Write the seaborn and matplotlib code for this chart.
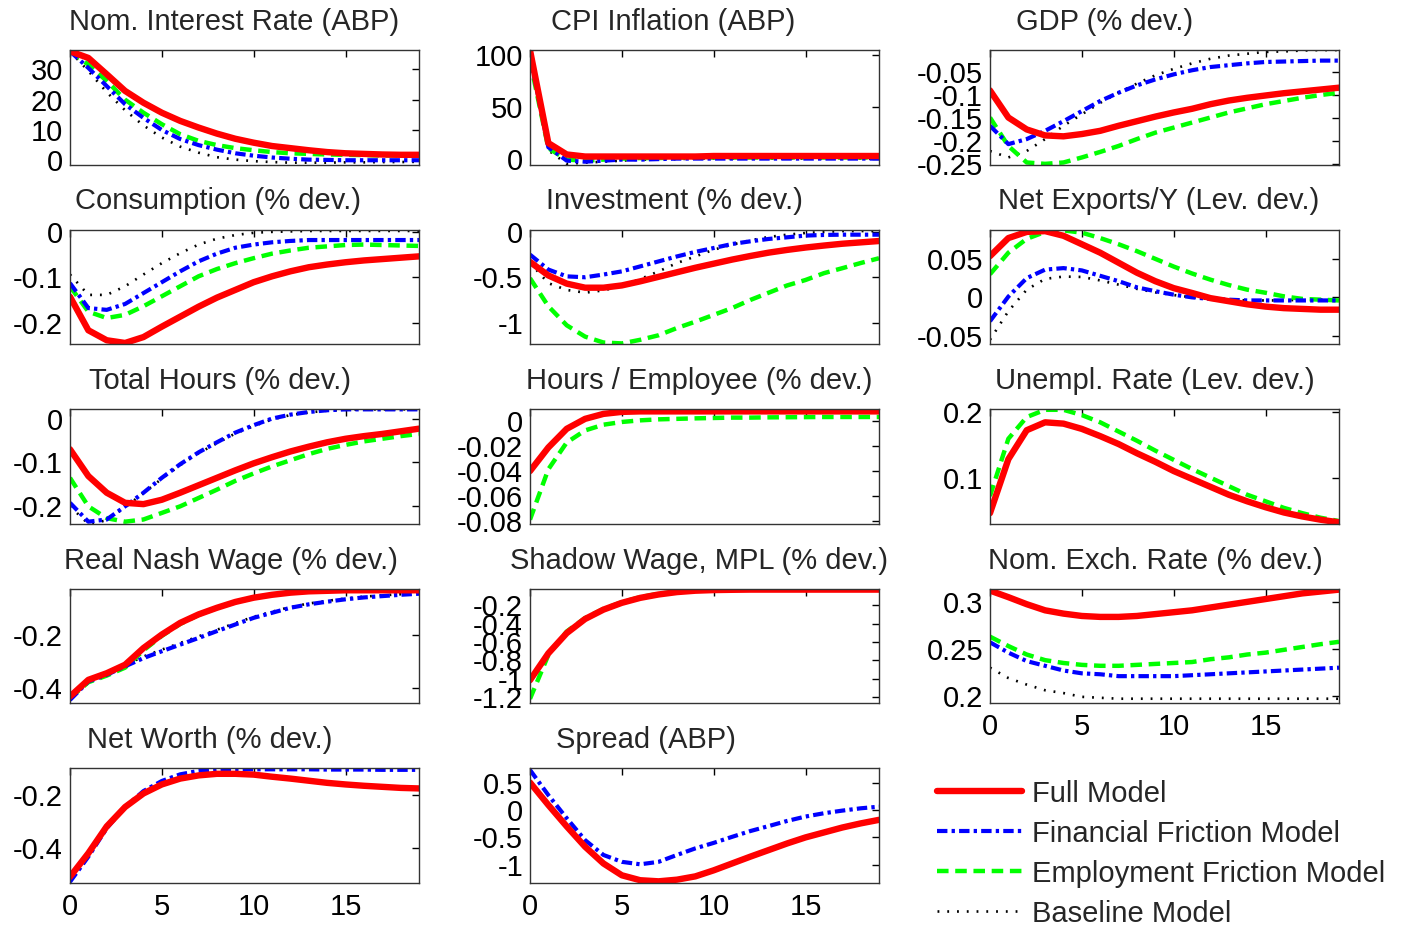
import matplotlib
matplotlib.use("Agg")
import matplotlib.pyplot as plt
import seaborn as sns
from matplotlib.ticker import FormatStrFormatter

periods = list(range(20))
models = ["Full Model", "Financial Friction Model", "Employment Friction Model", "Baseline Model"]

# each panel: [full, financial, employment, baseline]  (None = not shown)
nom_rate = [
    [36.0, 33.8, 28.4, 22.9, 19.0, 15.7, 13.0, 10.8, 8.8, 7.1, 5.8, 4.7, 4.0, 3.3, 2.7, 2.3, 2.1, 1.9, 1.8, 1.8],
    [36.0, 30.5, 24.5, 18.5, 14.0, 10.0, 7.0, 5.0, 3.5, 2.3, 1.5, 0.9, 0.5, 0.2, 0.1, 0.0, 0.0, 0.0, 0.0, 0.0],
    [36.0, 31.6, 26.2, 20.0, 15.7, 11.9, 8.6, 6.4, 5.0, 4.0, 3.3, 2.7, 2.3, 2.1, 1.9, 1.8, 1.7, 1.6, 1.6, 1.6],
    [36.0, 29.5, 22.5, 16.5, 11.5, 7.5, 4.5, 2.5, 1.0, 0.2, -0.3, -0.6, -0.8, -0.8, -0.8, -0.7, -0.7, -0.6, -0.6, -0.5],
]
cpi = [
    [105, 15, 4, 2, 2, 2, 2, 2, 2, 2, 2.5, 2.5, 2.5, 2.5, 2.5, 2.5, 2.5, 2.5, 2.5, 2.5],
    [100, 11, -2, -3, -2, -1, -1, -0.5, 0, 0, 0, 0, 0, 0, 0, 0, 0, 0, 0, 0],
    [95, 10, -1, -2, -1, 0, 0.5, 0.5, 1, 1, 1, 1, 1, 1, 1, 1, 1, 1, 1, 1],
    [98, 8, -5, -4, -3, -2, -1, -1, -0.5, 0, 0, 0, 0, 0, 0, 0, 0, 0, 0, 0],
]
gdp = [
    [-0.09, -0.149, -0.175, -0.188, -0.19, -0.185, -0.178, -0.167, -0.157, -0.147, -0.138, -0.13, -0.12, -0.112, -0.106, -0.101, -0.096, -0.092, -0.088, -0.084],
    [-0.167, -0.207, -0.196, -0.178, -0.157, -0.135, -0.113, -0.095, -0.079, -0.066, -0.055, -0.046, -0.039, -0.035, -0.031, -0.028, -0.027, -0.026, -0.025, -0.025],
    [-0.149, -0.211, -0.247, -0.25, -0.247, -0.236, -0.224, -0.211, -0.196, -0.182, -0.171, -0.16, -0.149, -0.138, -0.129, -0.12, -0.113, -0.106, -0.1, -0.095],
    [-0.222, -0.236, -0.222, -0.196, -0.167, -0.142, -0.117, -0.095, -0.075, -0.057, -0.043, -0.031, -0.021, -0.014, -0.01, -0.006, -0.005, -0.003, -0.002, -0.002],
]
consumption = [
    [-0.143, -0.217, -0.239, -0.245, -0.232, -0.209, -0.187, -0.165, -0.145, -0.128, -0.111, -0.098, -0.087, -0.078, -0.072, -0.067, -0.063, -0.06, -0.057, -0.054],
    [-0.113, -0.168, -0.172, -0.159, -0.135, -0.111, -0.087, -0.065, -0.048, -0.035, -0.028, -0.023, -0.02, -0.018, -0.018, -0.018, -0.018, -0.018, -0.018, -0.018],
    [-0.12, -0.176, -0.19, -0.183, -0.164, -0.142, -0.12, -0.098, -0.082, -0.069, -0.058, -0.048, -0.041, -0.035, -0.032, -0.029, -0.028, -0.029, -0.03, -0.031],
    [-0.094, -0.139, -0.139, -0.12, -0.094, -0.069, -0.047, -0.028, -0.015, -0.007, -0.002, 0.0, 0.001, 0.002, 0.002, 0.002, 0.002, 0.002, 0.002, 0.002],
]
investment = [
    [-0.33, -0.48, -0.57, -0.615, -0.615, -0.59, -0.545, -0.495, -0.445, -0.395, -0.35, -0.305, -0.265, -0.228, -0.198, -0.172, -0.15, -0.13, -0.115, -0.1],
    [-0.25, -0.415, -0.49, -0.5, -0.47, -0.435, -0.38, -0.325, -0.27, -0.22, -0.177, -0.133, -0.103, -0.077, -0.059, -0.04, -0.033, -0.03, -0.03, -0.03],
    [-0.51, -0.82, -1.03, -1.155, -1.22, -1.23, -1.19, -1.14, -1.06, -0.99, -0.915, -0.84, -0.75, -0.67, -0.59, -0.53, -0.455, -0.4, -0.343, -0.29],
    [-0.34, -0.565, -0.64, -0.67, -0.645, -0.595, -0.52, -0.435, -0.343, -0.27, -0.196, -0.14, -0.092, -0.055, -0.03, -0.011, 0.0, 0.01, 0.01, 0.01],
]
net_exports = [
    [0.0535, 0.077, 0.085, 0.086, 0.08, 0.069, 0.058, 0.045, 0.032, 0.021, 0.012, 0.0057, -0.001, -0.005, -0.009, -0.012, -0.014, -0.015, -0.016, -0.016],
    [-0.031, 0.001, 0.025, 0.036, 0.038, 0.035, 0.028, 0.021, 0.013, 0.008, 0.0035, 0.0, -0.002, -0.003, -0.004, -0.004, -0.004, -0.004, -0.004, -0.004],
    [0.03, 0.058, 0.076, 0.085, 0.087, 0.084, 0.077, 0.069, 0.06, 0.05, 0.04, 0.031, 0.023, 0.016, 0.01, 0.006, 0.0013, -0.002, -0.003, -0.004],
    [-0.055, -0.018, 0.01, 0.024, 0.027, 0.0265, 0.022, 0.0165, 0.011, 0.0065, 0.003, 0.0, -0.002, -0.003, -0.004, -0.004, -0.004, -0.003, -0.003, -0.003],
]
total_hours = [
    [-0.07, -0.131, -0.169, -0.192, -0.195, -0.185, -0.169, -0.152, -0.135, -0.118, -0.102, -0.088, -0.075, -0.064, -0.054, -0.046, -0.04, -0.035, -0.029, -0.023],
    [-0.192, -0.235, -0.23, -0.2, -0.169, -0.135, -0.104, -0.077, -0.054, -0.032, -0.015, 0.0, 0.009, 0.015, 0.019, 0.021, 0.021, 0.021, 0.021, 0.021],
    [-0.135, -0.2, -0.227, -0.235, -0.23, -0.215, -0.2, -0.181, -0.162, -0.142, -0.125, -0.109, -0.095, -0.081, -0.069, -0.06, -0.052, -0.046, -0.04, -0.035],
    [-0.2, -0.24, -0.232, -0.202, -0.17, -0.137, -0.106, -0.079, -0.056, -0.034, -0.017, -0.002, 0.008, 0.014, 0.018, 0.02, 0.021, 0.021, 0.021, 0.021],
]
hours_per_emp = [
    [-0.04, -0.021, -0.006, 0.002, 0.006, 0.0076, 0.008, 0.008, 0.008, 0.008, 0.008, 0.008, 0.008, 0.008, 0.008, 0.008, 0.008, 0.008, 0.008, 0.008],
    None,
    [-0.079, -0.0385, -0.017, -0.0073, -0.0027, -0.0005, 0.0008, 0.0016, 0.002, 0.0024, 0.0027, 0.003, 0.003, 0.0032, 0.0033, 0.0034, 0.0035, 0.0035, 0.0035, 0.0035],
    None,
]
unemployment = [
    [0.046, 0.128, 0.172, 0.184, 0.182, 0.174, 0.163, 0.151, 0.137, 0.124, 0.11, 0.098, 0.086, 0.074, 0.064, 0.055, 0.047, 0.041, 0.036, 0.032],
    None,
    [0.072, 0.159, 0.192, 0.203, 0.203, 0.195, 0.184, 0.17, 0.156, 0.141, 0.127, 0.113, 0.1, 0.087, 0.074, 0.064, 0.054, 0.046, 0.039, 0.034],
    None,
]
nash_wage = [
    [-0.434, -0.371, -0.346, -0.314, -0.251, -0.2, -0.156, -0.124, -0.099, -0.077, -0.061, -0.05, -0.042, -0.037, -0.035, -0.033, -0.033, -0.033, -0.033, -0.033],
    [-0.447, -0.377, -0.352, -0.32, -0.289, -0.263, -0.238, -0.213, -0.187, -0.162, -0.137, -0.118, -0.099, -0.086, -0.076, -0.067, -0.06, -0.055, -0.05, -0.046],
    [-0.44, -0.38, -0.355, -0.325, -0.26, -0.205, -0.16, -0.126, -0.1, -0.078, -0.062, -0.05, -0.042, -0.037, -0.035, -0.033, -0.033, -0.033, -0.033, -0.033],
    [-0.445, -0.372, -0.347, -0.315, -0.283, -0.257, -0.232, -0.207, -0.182, -0.157, -0.133, -0.114, -0.096, -0.083, -0.073, -0.064, -0.057, -0.052, -0.048, -0.044],
]
shadow_wage = [
    [-1.017, -0.724, -0.504, -0.35, -0.248, -0.174, -0.12, -0.083, -0.057, -0.042, -0.035, -0.032, -0.03, -0.03, -0.03, -0.03, -0.03, -0.03, -0.03, -0.03],
    None,
    [-1.22, -0.742, -0.486, -0.34, -0.24, -0.167, -0.112, -0.075, -0.053, -0.042, -0.035, -0.032, -0.03, -0.03, -0.03, -0.03, -0.03, -0.03, -0.03, -0.03],
    None,
]
exch_rate = [
    [0.312, 0.305, 0.2975, 0.291, 0.2875, 0.285, 0.284, 0.284, 0.285, 0.287, 0.289, 0.291, 0.294, 0.297, 0.3, 0.303, 0.306, 0.309, 0.311, 0.313],
    [0.257, 0.246, 0.237, 0.232, 0.227, 0.224, 0.223, 0.221, 0.221, 0.221, 0.221, 0.222, 0.223, 0.224, 0.225, 0.226, 0.227, 0.228, 0.229, 0.23],
    [0.263, 0.253, 0.244, 0.238, 0.235, 0.233, 0.232, 0.232, 0.233, 0.234, 0.235, 0.236, 0.239, 0.241, 0.244, 0.246, 0.249, 0.252, 0.255, 0.2575],
    [0.23, 0.219, 0.212, 0.206, 0.203, 0.199, 0.198, 0.197, 0.197, 0.197, 0.197, 0.197, 0.197, 0.197, 0.197, 0.197, 0.197, 0.197, 0.197, 0.197],
]
net_worth = [
    [-0.51, -0.421, -0.32, -0.247, -0.196, -0.162, -0.14, -0.128, -0.122, -0.122, -0.125, -0.133, -0.14, -0.148, -0.156, -0.162, -0.167, -0.171, -0.175, -0.177],
    [-0.529, -0.434, -0.327, -0.247, -0.187, -0.149, -0.124, -0.111, -0.105, -0.105, -0.105, -0.105, -0.105, -0.105, -0.106, -0.106, -0.106, -0.107, -0.107, -0.107],
    None,
    None,
]
spread = [
    [0.5, 0.09, -0.3, -0.67, -0.975, -1.19, -1.28, -1.3, -1.27, -1.21, -1.1, -0.975, -0.85, -0.73, -0.61, -0.5, -0.41, -0.32, -0.245, -0.18],
    [0.73, 0.27, -0.15, -0.55, -0.82, -0.945, -0.99, -0.945, -0.82, -0.7, -0.6, -0.49, -0.384, -0.293, -0.2, -0.12, -0.06, -0.012, 0.03, 0.06],
    None,
    None,
]

titles = [
    "Nom. Interest Rate (ABP)", "CPI Inflation (ABP)", "GDP (% dev.)",
    "Consumption (% dev.)", "Investment (% dev.)", "Net Exports/Y (Lev. dev.)",
    "Total Hours (% dev.)", "Hours / Employee (% dev.)", "Unempl. Rate (Lev. dev.)",
    "Real Nash Wage (% dev.)", "Shadow Wage, MPL (% dev.)", "Nom. Exch. Rate (% dev.)",
    "Net Worth (% dev.)", "Spread (ABP)",
]
# horizontal title centre, as a fraction of the axes width (the original isn't centred)
title_x = [0.471, 0.411, 0.328, 0.425, 0.414, 0.484, 0.43,
           0.486, 0.471, 0.461, 0.483, 0.473, 0.401, 0.331]
panels = [nom_rate, cpi, gdp, consumption, investment, net_exports, total_hours,
          hours_per_emp, unemployment, nash_wage, shadow_wage, exch_rate, net_worth, spread]
yticks = [
    [0, 10, 20, 30], [0, 50, 100], [-0.25, -0.2, -0.15, -0.1, -0.05],
    [-0.2, -0.1, 0], [-1, -0.5, 0], [-0.05, 0, 0.05],
    [-0.2, -0.1, 0], [-0.08, -0.06, -0.04, -0.02, 0], [0.1, 0.2],
    [-0.4, -0.2], [-1.2, -1, -0.8, -0.6, -0.4, -0.2], [0.2, 0.25, 0.3],
    [-0.4, -0.2], [-1, -0.5, 0, 0.5],
]
ylims = [
    (-1.5, 36.4), (-6, 105), (-0.252, -0.002),
    (-0.248, 0.005), (-1.24, 0.026), (-0.061, 0.088),
    (-0.24, 0.0215), (-0.0824, 0.0098), (0.0297, 0.204),
    (-0.46, -0.027), (-1.27, -0.02), (0.192, 0.314),
    (-0.533, -0.101), (-1.33, 0.76),
]

styles = [
    dict(color="#ff0000", linestyle="-", linewidth=4.6),
    dict(color="#0000ff", linestyle=(0, (2.5, 1.0, 0.8, 1.0)), linewidth=3.0),
    dict(color="#00ff00", linestyle=(0, (2.6, 1.5)), linewidth=3.2),
    dict(color="black", linestyle=(0, (0.7, 3.0)), linewidth=1.9),
]

sns.set_style("white")
plt.rcParams["font.family"] = ["Liberation Sans", "DejaVu Sans"]
plt.rcParams["axes.unicode_minus"] = False
fs = 21

fig, axes = plt.subplots(5, 3, figsize=(14.08, 9.27), dpi=100)
fig.subplots_adjust(left=0.0497, right=0.951, top=0.946, bottom=0.0475,
                    wspace=0.318, hspace=0.565)
axes = axes.flatten()

for i, ax in enumerate(axes[:14]):
    # baseline first so the thick lines sit on top
    for j in [3, 2, 1, 0]:
        series = panels[i][j]
        if series is None:
            continue
        sns.lineplot(x=periods, y=series, ax=ax, label=models[j], legend=False, **styles[j])
    ax.set_xlim(0, 19)
    ax.set_ylim(*ylims[i])
    ax.set_xticks([0, 5, 10, 15])
    ax.set_yticks(yticks[i])
    ax.yaxis.set_major_formatter(FormatStrFormatter("%g"))
    ax.set_title(titles[i], fontsize=fs, pad=14.5, x=title_x[i])
    ax.tick_params(direction="in", top=True, right=True, length=5, width=1,
                   labelsize=fs, pad=5, colors="black")
    ax.tick_params(axis="x", pad=7)
    if i not in (11, 12, 13):
        ax.set_xticklabels([])
    for s in ax.spines.values():
        s.set_color("#333333")
        s.set_linewidth(1.0)

axes[14].axis("off")

handles, labels = axes[0].get_legend_handles_labels()
order = [labels.index(m) for m in models]
fig.legend([handles[k] for k in order], [labels[k] for k in order],
           loc="upper left", bbox_to_anchor=(925 / 1408, 1 - 768 / 927),
           frameon=False, fontsize=fs, handlelength=2.92, handletextpad=0.34,
           labelspacing=0.41, borderaxespad=0)

fig.savefig("out.png", dpi=100, facecolor="white")
